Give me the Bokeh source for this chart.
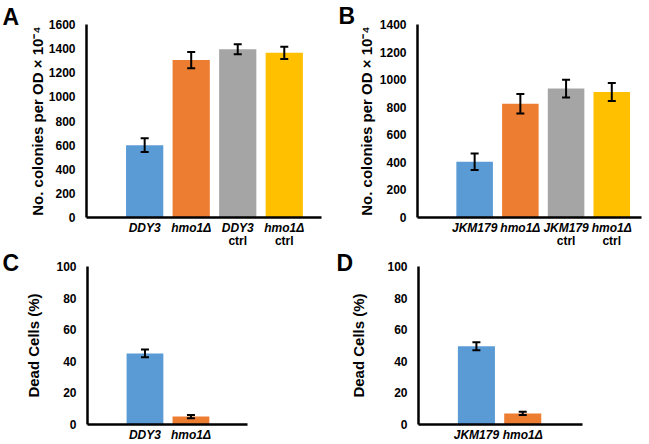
from bokeh.plotting import figure
from bokeh.layouts import column, row
from bokeh.models import (ColumnDataSource, Range1d, FixedTicker, Whisker, TeeHead,
                          LinearAxis, Title)
from bokeh.embed import file_html
from bokeh.resources import INLINE

# ---------------- data ----------------
a_names = ["DDY3", "hmo1Δ", "DDY3", "hmo1Δ"]
a_sub = ["", "", "ctrl", "ctrl"]
a_vals = [600, 1305, 1395, 1365]
a_errs = [58, 68, 42, 50]

b_names = ["JKM179", "hmo1Δ", "JKM179", "hmo1Δ"]
b_sub = ["", "", "ctrl", "ctrl"]
b_vals = [405, 825, 935, 910]
b_errs = [60, 70, 65, 65]

c_names = ["DDY3", "hmo1Δ"]
c_vals = [45, 5]
c_errs = [2.4, 1.0]

d_names = ["JKM179", "hmo1Δ"]
d_vals = [49.5, 7]
d_errs = [2.5, 1.0]

colors = ["#5B9BD5", "#ED7D31", "#A5A5A5", "#FFC000"]

FONT = "Liberation Sans"


def make_panel(letter, names, subs, vals, errs, ylabel, yend, ystep, xr, w, h,
               bl, br, bt, bb, xstand, ylab_stand, letter_off, letter_stand):
    n = len(vals)
    xs = list(range(n))
    src = ColumnDataSource(dict(
        x=xs, top=vals, color=colors[:n],
        upper=[v + e for v, e in zip(vals, errs)],
        lower=[v - e for v, e in zip(vals, errs)],
    ))
    p = figure(width=w, height=h, output_backend="svg", toolbar_location=None,
               x_range=Range1d(*xr), y_range=Range1d(0, yend),
               min_border_left=bl, min_border_right=br, min_border_top=bt,
               min_border_bottom=bb)
    p.outline_line_color = None
    p.grid.visible = False
    p.vbar(x="x", top="top", width=0.8, fill_color="color", line_color=None, source=src)
    wh = Whisker(base="x", upper="upper", lower="lower", source=src,
                 line_color="black", line_width=2, level="annotation",
                 upper_head=TeeHead(size=8, line_width=2, line_color="black"),
                 lower_head=TeeHead(size=8, line_width=2, line_color="black"))
    p.add_layout(wh)

    # axes
    p.xaxis.ticker = FixedTicker(ticks=xs)
    p.xaxis.major_label_overrides = {i: nm for i, nm in enumerate(names)}
    p.xaxis.major_label_text_font = FONT
    p.xaxis.major_label_text_font_style = "bold italic"
    p.xaxis.major_label_text_font_size = "12px"
    p.xaxis.major_label_text_color = "black"
    p.xaxis.major_label_standoff = xstand
    p.yaxis.ticker = FixedTicker(ticks=list(range(0, yend + 1, ystep)))
    p.yaxis.major_label_text_font = FONT
    p.yaxis.major_label_text_font_style = "bold"
    p.yaxis.major_label_text_font_size = "12px"
    p.yaxis.major_label_text_color = "black"
    p.yaxis.major_label_standoff = 11
    p.yaxis.axis_label = ylabel
    p.yaxis.axis_label_text_font = FONT
    p.yaxis.axis_label_text_font_style = "bold"
    p.yaxis.axis_label_text_font_size = "15px"
    p.yaxis.axis_label_text_color = "black"
    p.yaxis.axis_label_standoff = ylab_stand
    for ax in (p.xaxis, p.yaxis):
        ax.axis_line_width = 2.5
        ax.axis_line_color = "black"
        ax.major_tick_line_color = None
        ax.minor_tick_line_color = None
        ax.major_tick_out = 0
        ax.major_tick_in = 0
        ax.minor_tick_out = 0
        ax.minor_tick_in = 0

    if subs:
        sub_ticks = [i for i, s in enumerate(subs) if s]
        ax2 = LinearAxis(ticker=FixedTicker(ticks=sub_ticks),
                         major_label_overrides={i: subs[i] for i in sub_ticks},
                         axis_line_color=None, major_tick_line_color=None,
                         minor_tick_line_color=None, major_tick_out=0, major_tick_in=0,
                         minor_tick_out=0, minor_tick_in=0, major_label_standoff=-4,
                         major_label_text_font=FONT, major_label_text_font_style="bold",
                         major_label_text_font_size="12px", major_label_text_color="black")
        p.add_layout(ax2, "below")

    p.title = Title(text=letter, text_font=FONT, text_font_style="bold",
                    text_font_size="23px", text_color="black", align="left",
                    offset=letter_off, standoff=letter_stand)
    return p


pa = make_panel("A", a_names, a_sub, a_vals, a_errs, "No. colonies per OD × 10⁻⁴",
                1600, 200, (-1.25, 3.8), 324, 250, 86, 3, 24, 33, 3, 0, -84, -10)
pb = make_panel("B", b_names, b_sub, b_vals, b_errs, "No. colonies per OD × 10⁻⁴",
                1400, 200, (-1.25, 3.65), 324, 250, 93, 7, 23, 33, 3, 2, -79, -8)
pc = make_panel("C", c_names, None, c_vals, c_errs, "Dead Cells (%)",
                100, 20, (-1.25, 2.23), 324, 194, 87, 77, 16, 20, 3, 11, -85, -18)
pd = make_panel("D", d_names, None, d_vals, d_errs, "Dead Cells (%)",
                100, 20, (-1.25, 2.29), 324, 194, 94, 66, 14, 20, 3, 17, -82, -18)

layout = column(row(pa, pb), row(pc, pd))

open("out.html", "w").write(file_html(layout, INLINE))
